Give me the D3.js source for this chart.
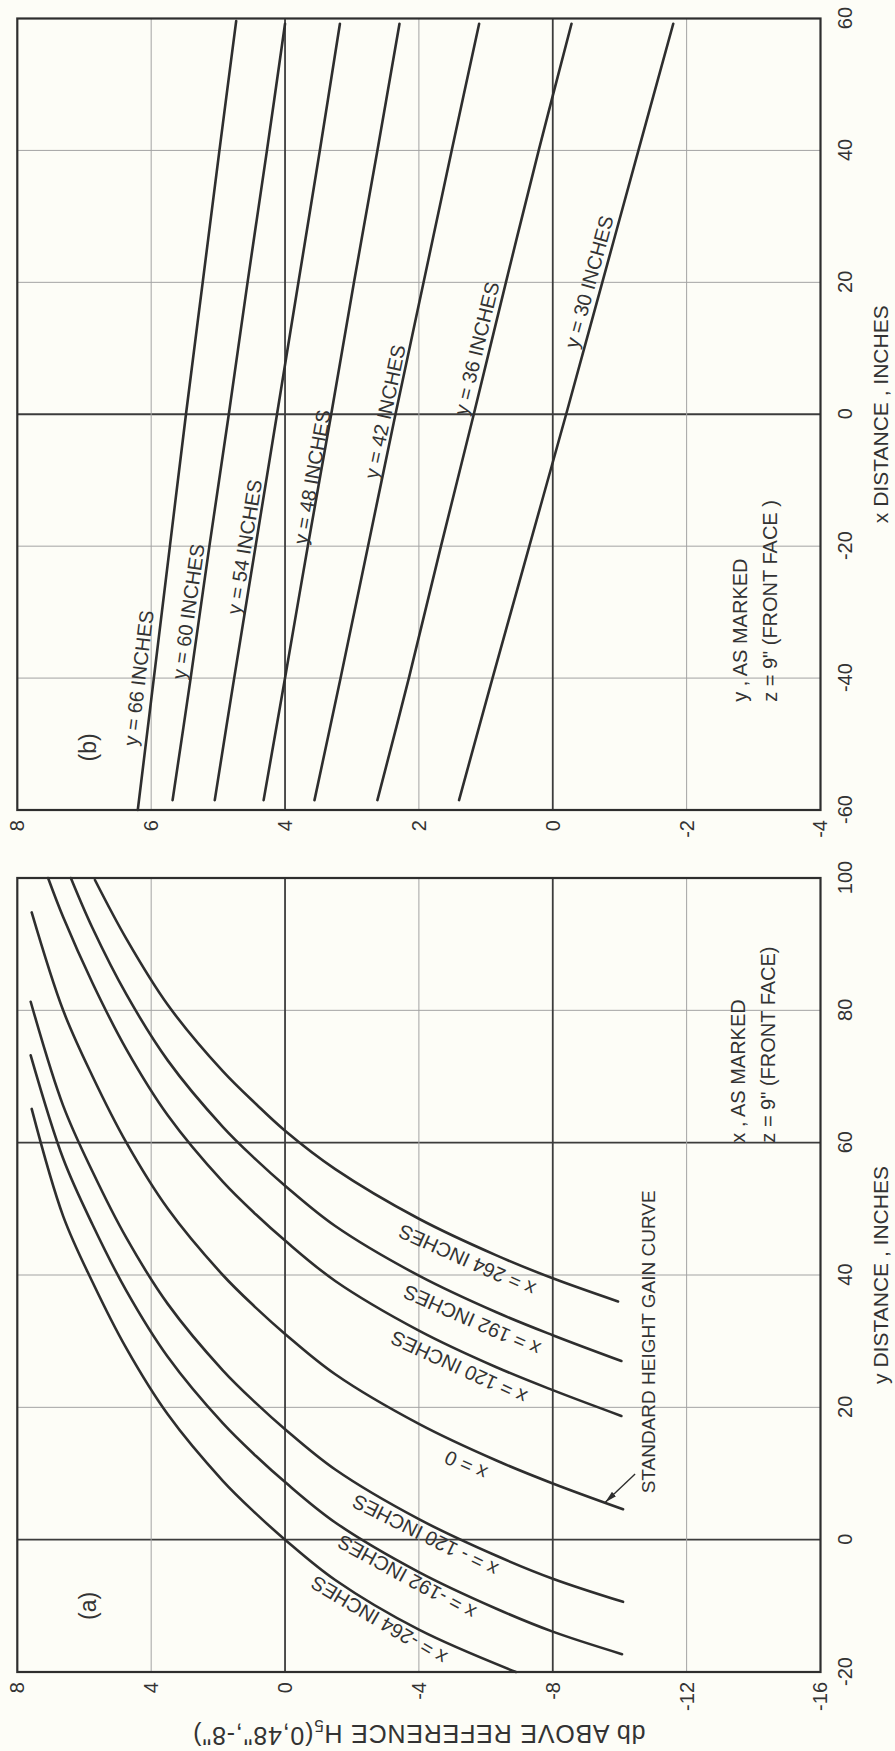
<!DOCTYPE html>
<html lang="en">
  <head>
    <meta charset="UTF-8" />
    <title>Height gain curves</title>
    <script src="https://d3js.org/d3.v7.min.js"></script>
    <style>
      body { margin: 0; background: #fdfdf7; }
      svg { display: block; }
      text { font-family: "Liberation Sans", Arial, sans-serif; fill: #333; }
      .tick text {
        font-family: "Liberation Sans Narrow", "Arial Narrow", "Liberation Sans", sans-serif;
        font-size: 20px;
      }
    </style>
  </head>
  <body>
    <svg id="chart" width="895" height="1751"></svg>
    <script>
      // ---- panel (a): db vs y distance, one curve per x ----
      const aYdTicks = [-20, 0, 20, 40, 60, 80, 100];
      const aDbTicks = [-16, -12, -8, -4, 0, 4, 8];

      const aYdXm264 = [-20, -13.6, -6.1, 0, 3.9, 8.9, 18.9, 28.9, 38.9, 48.9, 65.1];
      const aDbXm264 = [-6.9, -4, -1.5, 0, 0.86, 1.86, 3.5, 4.74, 5.75, 6.63, 7.57];
      const aYdXm192 = [-17.3, -13.9, -10.4, -4.9, 2.6, 8.7, 12.6, 17.6, 27.6, 37.6, 47.6, 57.6, 73.2];
      const aDbXm192 = [-10.07, -8, -6.3, -4, -1.5, 0, 0.86, 1.86, 3.5, 4.74, 5.75, 6.63, 7.6];
      const aYdXm120 = [-9.4, -5.9, -2.4, 3.1, 10.6, 16.7, 20.6, 25.6, 35.6, 45.6, 55.6, 65.6, 81.3];
      const aDbXm120 = [-10.1, -8, -6.3, -4, -1.5, 0, 0.86, 1.86, 3.5, 4.74, 5.75, 6.63, 7.6];
      const aYdX0 = [4.6, 8.5, 12, 17.5, 25, 31.1, 35, 40, 50, 60, 70, 80, 94.8];
      const aDbX0 = [-10.1, -8, -6.3, -4, -1.5, 0, 0.86, 1.86, 3.5, 4.74, 5.75, 6.63, 7.57];
      const aYdX120 = [18.7, 22.6, 26.1, 31.6, 39.1, 45.2, 49.1, 54.1, 64.1, 74.1, 84.1, 94.1, 100];
      const aDbX120 = [-10.05, -8, -6.3, -4, -1.5, 0, 0.86, 1.86, 3.5, 4.74, 5.75, 6.63, 7.08];
      const aYdX192 = [27.0, 30.9, 34.4, 39.9, 47.4, 53.5, 57.4, 62.4, 72.4, 82.4, 92.4, 100];
      const aDbX192 = [-10.05, -8, -6.3, -4, -1.5, 0, 0.86, 1.86, 3.5, 4.74, 5.75, 6.4];
      const aYdX264 = [36.0, 39.5, 43, 48.5, 56, 61.8, 65.8, 70.8, 80.8, 90.8, 99.7];
      const aDbX264 = [-9.95, -8, -6.3, -4, -1.5, 0, 0.86, 1.86, 3.5, 4.74, 5.68];

      const aNames = ["x = -264 INCHES", "x = -192 INCHES", "x = - 120 INCHES", "x = 0",
                      "x = 120 INCHES", "x = 192 INCHES", "x = 264 INCHES"];
      const aLabelYd = [-12.2, -5.7, 0.6, 11.2, 26.0, 33.1, 42.2];
      const aLabelDb = [-2.8, -3.63, -4.18, -5.4, -5.19, -5.58, -5.43];

      // ---- panel (b): db vs x distance, one line per y ----
      const bXdTicks = [-60, -40, -20, 0, 20, 40, 60];
      const bDbTicks = [-4, -2, 0, 2, 4, 6, 8];
      const bXd66 = [-60, -40, -20, 0, 20, 40, 59.6];
      const bXd = [-58.5, -40, -20, 0, 20, 40, 59.2];
      const bDb66 = [6.20, 5.96, 5.72, 5.48, 5.23, 4.98, 4.73];
      const bDb60 = [5.68, 5.41, 5.13, 4.84, 4.56, 4.27, 4.00];
      const bDb54 = [5.05, 4.76, 4.44, 4.12, 3.80, 3.48, 3.18];
      const bDb48 = [4.32, 4.00, 3.66, 3.31, 2.97, 2.62, 2.29];
      const bDb42 = [3.56, 3.17, 2.76, 2.35, 1.93, 1.51, 1.10];
      const bDb36 = [2.62, 2.15, 1.67, 1.18, 0.70, 0.21, -0.28];
      const bDb30 = [1.40, 0.90, 0.35, -0.20, -0.74, -1.28, -1.80];

      const bNames = ["y = 66 INCHES", "y = 60 INCHES", "y = 54 INCHES", "y = 48 INCHES",
                      "y = 42 INCHES", "y = 36 INCHES", "y = 30 INCHES"];
      const bLabelXd = [-40, -29.9, -20.1, -9.5, 0.4, 10, 20.1];
      const bLabelDb = [6.19, 5.45, 4.61, 3.6, 2.51, 1.14, -0.54];

      // the figure is drawn landscape, then turned a quarter turn to the left
      const svg = d3.select("#chart");
      svg.append("rect").attr("width", 895).attr("height", 1751).attr("fill", "#fdfdf7");
      const g = svg.append("g").attr("transform", "translate(0,1751) rotate(-90)");

      const plotTop = 17.3, plotBottom = 820.5;
      const xA = d3.scaleLinear().domain([-20, 100]).range([79, 873]);
      const yA = d3.scaleLinear().domain([-16, 8]).range([plotBottom, plotTop]);
      const xB = d3.scaleLinear().domain([-60, 60]).range([941, 1732.5]);
      const yB = d3.scaleLinear().domain([-4, 8]).range([plotBottom, plotTop]);

      const ink = "#2e2e2e";

      const drawPanel = (x, y, xTicks, yTicks, heavyX, heavyY) => {
        const p = g.append("g");
        const [x0, x1] = x.range();

        p.selectAll("line.gx")
          .data(xTicks.slice(1, -1))
          .join("line")
          .attr("class", "gx")
          .attr("x1", (d) => x(d)).attr("x2", (d) => x(d))
          .attr("y1", plotTop).attr("y2", plotBottom)
          .attr("stroke", (d) => (heavyX.includes(d) ? "#3c3c3c" : "#a3a3a3"))
          .attr("stroke-width", (d) => (heavyX.includes(d) ? 1.8 : 1));

        p.selectAll("line.gy")
          .data(yTicks.slice(1, -1))
          .join("line")
          .attr("class", "gy")
          .attr("x1", x0).attr("x2", x1)
          .attr("y1", (d) => y(d)).attr("y2", (d) => y(d))
          .attr("stroke", (d) => (heavyY.includes(d) ? "#3c3c3c" : "#a3a3a3"))
          .attr("stroke-width", (d) => (heavyY.includes(d) ? 1.8 : 1));

        p.append("rect")
          .attr("x", x0).attr("y", plotTop)
          .attr("width", x1 - x0).attr("height", plotBottom - plotTop)
          .attr("fill", "none").attr("stroke", ink).attr("stroke-width", 2.2);

        p.append("g")
          .attr("transform", `translate(0,${plotBottom})`)
          .call(d3.axisBottom(x).tickValues(xTicks).tickSize(0).tickPadding(17).tickFormat((d) => String(d)))
          .call((a) => a.select(".domain").remove());

        p.append("g")
          .attr("transform", `translate(${x0},0)`)
          .call(d3.axisLeft(y).tickValues(yTicks).tickSize(0).tickPadding(10).tickFormat((d) => String(d)))
          .call((a) => a.select(".domain").remove());

        return p;
      };

      const interp = (xs, ys, t) => {
        let i = 1;
        while (i < xs.length - 1 && xs[i] < t) i++;
        const f = (t - xs[i - 1]) / (xs[i] - xs[i - 1]);
        return ys[i - 1] + f * (ys[i] - ys[i - 1]);
      };

      const drawCurves = (p, x, y, series, names, labX, labY, shift, size) => {
        const line = d3.line()
          .x((d) => x(d[0]))
          .y((d) => y(d[1]))
          .curve(d3.curveCatmullRom.alpha(0.5));

        p.selectAll("path.curve")
          .data(series)
          .join("path")
          .attr("class", "curve")
          .attr("d", (s) => line(d3.zip(s[0], s[1])))
          .attr("fill", "none")
          .attr("stroke", ink)
          .attr("stroke-width", 2.6)
          .attr("stroke-linecap", "round");

        // labels follow the local slope of their curve
        series.forEach((s, i) => {
          const t = labX[i] + shift;
          const ax = x(t - 2), ay = y(interp(s[0], s[1], t - 2));
          const bx = x(t + 2), by = y(interp(s[0], s[1], t + 2));
          const ang = (Math.atan2(by - ay, bx - ax) * 180) / Math.PI;
          p.append("text")
            .attr("transform", `translate(${x(labX[i])},${y(labY[i])}) rotate(${ang})`)
            .attr("text-anchor", "middle")
            .attr("dy", "0.36em")
            .style("font-size", size + "px")
            .text(names[i]);
        });
      };

      // panel (a)
      const pA = drawPanel(xA, yA, aYdTicks, aDbTicks, [0, 60], [0, -8]);
      drawCurves(pA, xA, yA,
        [[aYdXm264, aDbXm264], [aYdXm192, aDbXm192], [aYdXm120, aDbXm120], [aYdX0, aDbX0],
         [aYdX120, aDbX120], [aYdX192, aDbX192], [aYdX264, aDbX264]],
        aNames, aLabelYd, aLabelDb, 1.5, 20);

      // panel (b)
      const pB = drawPanel(xB, yB, bXdTicks, bDbTicks, [0], [4, 0]);
      drawCurves(pB, xB, yB,
        [[bXd66, bDb66], [bXd, bDb60], [bXd, bDb54], [bXd, bDb48],
         [bXd, bDb42], [bXd, bDb36], [bXd, bDb30]],
        bNames, bLabelXd, bLabelDb, 0, 20);

      // panel tags and notes
      pA.append("text").attr("x", xA(-10)).attr("y", yA(5.9)).attr("dy", "0.36em")
        .attr("text-anchor", "middle").style("font-size", "23px").text("(a)");
      pB.append("text").attr("x", xB(-50.5)).attr("y", yB(6.95)).attr("dy", "0.36em")
        .attr("text-anchor", "middle").style("font-size", "23px").text("(b)");

      pA.append("text").attr("x", xA(60)).attr("y", yA(-13.74))
        .style("font-size", "20px").text("x , AS MARKED");
      pA.append("text").attr("x", xA(60)).attr("y", yA(-14.64))
        .style("font-size", "20px").text('z = 9" (FRONT FACE)');
      pB.append("text").attr("x", xB(-43.6)).attr("y", yB(-2.9))
        .style("font-size", "20px").text("y , AS MARKED");
      pB.append("text").attr("x", xB(-43.6)).attr("y", yB(-3.35))
        .style("font-size", "20px").text('z = 9" (FRONT FACE )');

      // standard height gain curve pointer
      svg.append("defs").append("marker")
        .attr("id", "head")
        .attr("viewBox", "0 0 12 6")
        .attr("refX", 12).attr("refY", 3)
        .attr("markerWidth", 12).attr("markerHeight", 6)
        .attr("markerUnits", "userSpaceOnUse")
        .attr("orient", "auto")
        .append("path").attr("d", "M0,0 L12,3 L0,6 Z").attr("fill", ink);
      pA.append("line")
        .attr("x1", xA(9.93)).attr("y1", yA(-10.46))
        .attr("x2", xA(5.65)).attr("y2", yA(-9.57))
        .attr("stroke", ink).attr("stroke-width", 1.4)
        .attr("marker-end", "url(#head)");
      pA.append("text").attr("x", xA(7.0)).attr("y", yA(-11.06))
        .style("font-size", "19px").text("STANDARD HEIGHT GAIN CURVE");

      // axis titles
      pA.append("text").attr("x", (xA.range()[0] + xA.range()[1]) / 2).attr("y", 888)
        .attr("text-anchor", "middle").style("font-size", "21px").text("y DISTANCE , INCHES");
      pB.append("text").attr("x", (xB.range()[0] + xB.range()[1]) / 2).attr("y", 888)
        .attr("text-anchor", "middle").style("font-size", "21px").text("x DISTANCE , INCHES");

      const dbTitle = pA.append("text")
        .attr("transform", `translate(26,${(plotTop + plotBottom) / 2}) rotate(-90)`)
        .attr("text-anchor", "middle")
        .style("font-size", "25px")
        .style("letter-spacing", "0.8px");
      dbTitle.append("tspan").text("db ABOVE REFERENCE H");
      dbTitle.append("tspan").attr("dy", "0.3em").style("font-size", "17px").text("5");
      dbTitle.append("tspan").attr("dy", "-0.3em").text('(0,48",-8")');
    </script>
  </body>
</html>
